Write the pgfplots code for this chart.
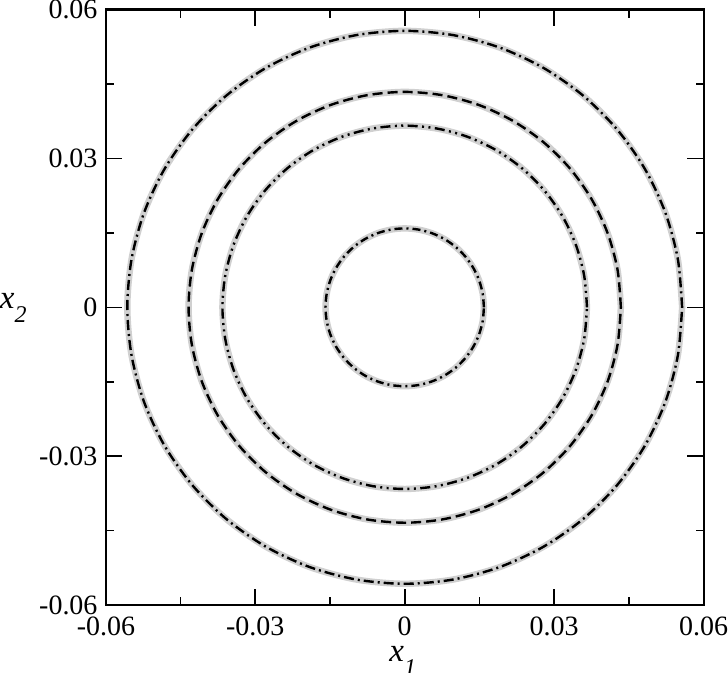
\documentclass[border=0pt]{standalone}
\usepackage{fontspec}
\setmainfont{Liberation Serif}
\usepackage{pgfplots}
\usepackage{pgfplotstable}
\pgfplotsset{compat=1.18}
\definecolor{ringGray}{HTML}{D0D0D0}

% circle outlines, one table per ring (angle steps of 10 degrees)
\pgfplotstableread{
x y
0.0557 0
0.05485 0.00967
0.05234 0.01905
0.04824 0.02785
0.04267 0.03580
0.03580 0.04267
0.02785 0.04824
0.01905 0.05234
0.00967 0.05485
0 0.0557
-0.00967 0.05485
-0.01905 0.05234
-0.02785 0.04824
-0.03580 0.04267
-0.04267 0.03580
-0.04824 0.02785
-0.05234 0.01905
-0.05485 0.00967
-0.0557 0
-0.05485 -0.00967
-0.05234 -0.01905
-0.04824 -0.02785
-0.04267 -0.03580
-0.03580 -0.04267
-0.02785 -0.04824
-0.01905 -0.05234
-0.00967 -0.05485
0 -0.0557
0.00967 -0.05485
0.01905 -0.05234
0.02785 -0.04824
0.03580 -0.04267
0.04267 -0.03580
0.04824 -0.02785
0.05234 -0.01905
0.05485 -0.00967
0.0557 0
}\ringA
\pgfplotstableread{
x y
0.0434 0
0.04274 0.00753
0.04078 0.01484
0.03758 0.02170
0.03324 0.02790
0.02790 0.03324
0.02170 0.03758
0.01484 0.04078
0.00753 0.04274
0 0.0434
-0.00753 0.04274
-0.01484 0.04078
-0.02170 0.03758
-0.02790 0.03324
-0.03324 0.02790
-0.03758 0.02170
-0.04078 0.01484
-0.04274 0.00753
-0.0434 0
-0.04274 -0.00753
-0.04078 -0.01484
-0.03758 -0.02170
-0.03324 -0.02790
-0.02790 -0.03324
-0.02170 -0.03758
-0.01484 -0.04078
-0.00753 -0.04274
0 -0.0434
0.00753 -0.04274
0.01484 -0.04078
0.02170 -0.03758
0.02790 -0.03324
0.03324 -0.02790
0.03758 -0.02170
0.04078 -0.01484
0.04274 -0.00753
0.0434 0
}\ringB
\pgfplotstableread{
x y
0.0366 0
0.03604 0.00635
0.03439 0.01252
0.03170 0.01830
0.02804 0.02353
0.02353 0.02804
0.01830 0.03170
0.01252 0.03439
0.00635 0.03604
0 0.0366
-0.00635 0.03604
-0.01252 0.03439
-0.01830 0.03170
-0.02353 0.02804
-0.02804 0.02353
-0.03170 0.01830
-0.03439 0.01252
-0.03604 0.00635
-0.0366 0
-0.03604 -0.00635
-0.03439 -0.01252
-0.03170 -0.01830
-0.02804 -0.02353
-0.02353 -0.02804
-0.01830 -0.03170
-0.01252 -0.03439
-0.00635 -0.03604
0 -0.0366
0.00635 -0.03604
0.01252 -0.03439
0.01830 -0.03170
0.02353 -0.02804
0.02804 -0.02353
0.03170 -0.01830
0.03439 -0.01252
0.03604 -0.00635
0.0366 0
}\ringC
\pgfplotstableread{
x y
0.0159 0
0.01566 0.00276
0.01494 0.00544
0.01377 0.00795
0.01218 0.01022
0.01022 0.01218
0.00795 0.01377
0.00544 0.01494
0.00276 0.01566
0 0.0159
-0.00276 0.01566
-0.00544 0.01494
-0.00795 0.01377
-0.01022 0.01218
-0.01218 0.01022
-0.01377 0.00795
-0.01494 0.00544
-0.01566 0.00276
-0.0159 0
-0.01566 -0.00276
-0.01494 -0.00544
-0.01377 -0.00795
-0.01218 -0.01022
-0.01022 -0.01218
-0.00795 -0.01377
-0.00544 -0.01494
-0.00276 -0.01566
0 -0.0159
0.00276 -0.01566
0.00544 -0.01494
0.00795 -0.01377
0.01022 -0.01218
0.01218 -0.01022
0.01377 -0.00795
0.01494 -0.00544
0.01566 -0.00276
0.0159 0
}\ringD

\newcommand{\labfont}{\fontsize{16.5}{19}\selectfont}
\newcommand{\subfont}{\fontsize{12}{14}\selectfont}

\begin{document}
\begin{tikzpicture}
\begin{axis}[
  scale only axis, width=298bp, height=297bp,
  xmin=-0.06, xmax=0.06, ymin=-0.06, ymax=0.06,
  scaled ticks=false,
  xtick={-0.06,-0.03,0,0.03,0.06}, xticklabels={-0.06,-0.03,0,0.03,0.06},
  ytick={-0.06,-0.03,0,0.03,0.06}, yticklabels={-0.06,-0.03,0,0.03,0.06},
  minor x tick num=1, minor y tick num=1,
  tick align=inside, major tick length=8bp, minor tick length=4bp,
  every tick/.style={black, line width=0.8bp},
  axis line style={line width=1bp},
  tick label style={font=\fontsize{14}{16}\selectfont, inner sep=0pt},
  xticklabel style={anchor=north, yshift=-5.5bp},
  yticklabel style={anchor=east, xshift=-4bp},
  xlabel={{\labfont\textit{x}}\raisebox{-7bp}[2bp][5.5bp]{\subfont\textit{1}}},
  ylabel={{\labfont\textit{x}}\raisebox{-7bp}{\subfont\textit{2}}},
  every axis x label/.style={at={(rel axis cs:0.5,0)}, anchor=base, yshift=-28bp, xshift=-1bp, inner sep=0pt},
  every axis y label/.style={at={(rel axis cs:0,0.5)}, anchor=base west, xshift=-53bp, yshift=-0.5bp, inner sep=0pt},
  clip=false,
  gray band/.style={ringGray, line width=3.2bp, smooth, no marks},
  ring/.style={black, line width=1.2bp, smooth, no marks},
]
\addplot[gray band] table[x=x, y=y] {\ringA};
\addplot[gray band] table[x=x, y=y] {\ringB};
\addplot[gray band] table[x=x, y=y] {\ringC};
\addplot[gray band] table[x=x, y=y] {\ringD};
\addplot[ring, dash pattern=on 5bp off 2bp on 1bp off 2bp] table[x=x, y=y] {\ringA};
\addplot[ring, dash pattern=on 5bp off 2.5bp] table[x=x, y=y] {\ringB};
\addplot[ring, dash pattern=on 5bp off 2.2bp on 1bp off 2.2bp on 1bp off 2.2bp] table[x=x, y=y] {\ringC};
\addplot[ring, dash pattern=on 4bp off 2bp on 1bp off 2bp] table[x=x, y=y] {\ringD};
\end{axis}
\end{tikzpicture}
\end{document}
